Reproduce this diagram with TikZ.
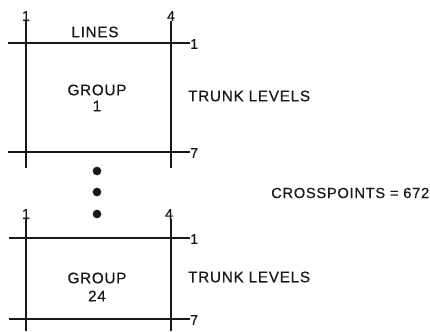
\documentclass[tikz,border=0pt]{standalone}
\usepackage{fontspec}
\setmainfont{Liberation Sans}[FakeBold=0.6]
\newfontfamily\capsfont[LetterSpace=5, FakeBold=0.6]{Liberation Sans}
\newfontfamily\numfont[FakeBold=0.6]{Liberation Sans}
\usetikzlibrary{positioning}
\definecolor{inkcolor}{RGB}{25, 25, 25}
\tikzset{
  wireline/.style={line width=1.5pt, color=inkcolor},
  lbl/.style={font=\capsfont\fontsize{13}{15}\selectfont, text=inkcolor, inner sep=0pt},
  numlbl/.style={font=\numfont\fontsize{12}{14}\selectfont, text=inkcolor, inner sep=0pt},
  dotmark/.style={circle, fill=inkcolor, inner sep=0pt, minimum size=0.26cm}
}

\begin{document}
\begin{tikzpicture}[x=0.03cm, y=-0.03cm]
  \useasboundingbox (0,0) rectangle (430,331);

  % ── Group 1 ────────────────────────────────────────────────────
  \node[numlbl] (g1-c1) at (26,16) {1};
  \node[numlbl] (g1-c4) at (171,16) {4};
  \node[numlbl, anchor=west] (g1-r1) at (190,44) {1};
  \node[numlbl, anchor=west] (g1-r7) at (190,153) {7};
  \coordinate (g1-a) at (8,43);
  \coordinate (g1-b) at (8,152);
  \coordinate (g1-c1end) at (26,168);
  \coordinate (g1-c4end) at (171,168);
  \draw[wireline] (g1-a) -- (g1-a -| g1-r1.west);
  \draw[wireline] (g1-b) -- (g1-b -| g1-r7.west);
  \draw[wireline] (g1-c1.south) -- (g1-c1end);
  \draw[wireline] (g1-c4.south) -- (g1-c4end);
  \node[lbl] (lines) at (95,32) {LINES};
  \node[lbl] (g1-name) at (97,90) {GROUP};
  \node[lbl] (g1-num) at (97,106) {1};
  \node[lbl, anchor=west] (g1-trunk) at (188,96) {TRUNK LEVELS};

  % ── Dots ───────────────────────────────────────────────────────
  \node[dotmark] (dot1) at (97,171) {};
  \node[dotmark] (dot2) at (97,192) {};
  \node[dotmark] (dot3) at (97,214) {};

  % ── Crosspoint count ───────────────────────────────────────────
  \node[lbl, font=\capsfont\fontsize{12.5}{14}\selectfont, anchor=west]
    (xpts) at (271,193) {CROSSPOINTS = 672};

  % ── Group 24 ───────────────────────────────────────────────────
  \node[numlbl] (g24-c1) at (26,214) {1};
  \node[numlbl] (g24-c4) at (169,214) {4};
  \node[numlbl, anchor=west] (g24-r1) at (190,239) {1};
  \node[numlbl, anchor=west] (g24-r7) at (190,320) {7};
  \coordinate (g24-a) at (9,238);
  \coordinate (g24-b) at (9,319);
  \coordinate (g24-c1end) at (26,331);
  \coordinate (g24-c4end) at (171,331);
  \draw[wireline] (g24-a) -- (g24-a -| g24-r1.west);
  \draw[wireline] (g24-b) -- (g24-b -| g24-r7.west);
  \draw[wireline] (g24-c1.south) -- (g24-c1end);
  \draw[wireline] (g24-c4.south -| g24-c4end) -- (g24-c4end);
  \node[lbl] (g24-name) at (97,278) {GROUP};
  \node[lbl] (g24-num) at (97,296) {24};
  \node[lbl, anchor=west] (g24-trunk) at (188,277) {TRUNK LEVELS};

\end{tikzpicture}
\end{document}
